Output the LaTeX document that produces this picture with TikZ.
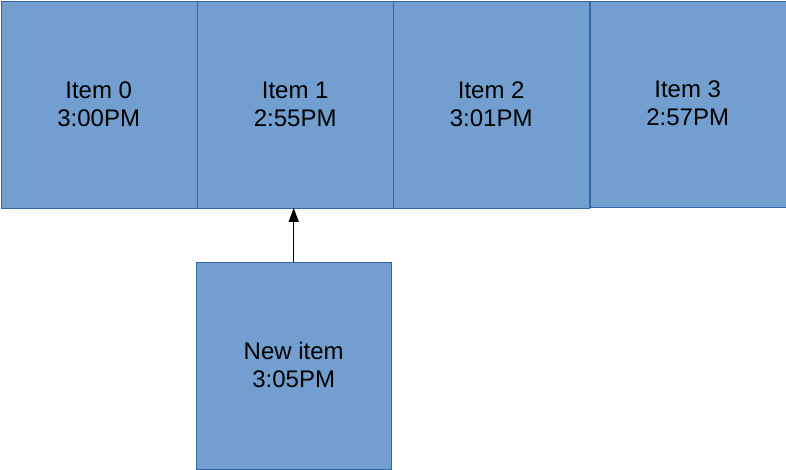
\documentclass[tikz,border=0pt]{standalone}
\usepackage{fontspec}
\setmainfont{Liberation Sans}
\usetikzlibrary{arrows.meta, positioning}
\definecolor{itemfill}{HTML}{729FCF}
\definecolor{itemline}{HTML}{3465A4}

\begin{document}
\begin{tikzpicture}[
    x=1pt, y=-1pt,
    font=\fontsize{24}{28}\selectfont,
    itembox/.style={draw=itemline, fill=itemfill, align=center, minimum width=196pt, minimum height=207pt, inner sep=0pt, anchor=north west},
    arr/.style={-{Triangle[length=14pt, width=10pt]}, line width=1pt},
]
\useasboundingbox (0,0) rectangle (786,469);
% Top row of items
\node[itembox] (i0) at (0.5,0.5) {Item 0\\3:00PM};
\node[itembox] (i1) at (197,0.5) {Item 1\\2:55PM};
\node[itembox] (i2) at (393,0.5) {Item 2\\3:01PM};
\node[itembox, minimum height=206pt] (i3) at (589.5,0.5) {Item 3\\2:57PM};

% New item below
\node[itembox, minimum width=195pt] (new) at (196,261.5) {New item\\3:05PM};

% Arrow
\draw[arr] (new.north) -- (new.north |- i1.south);
\end{tikzpicture}
\end{document}
